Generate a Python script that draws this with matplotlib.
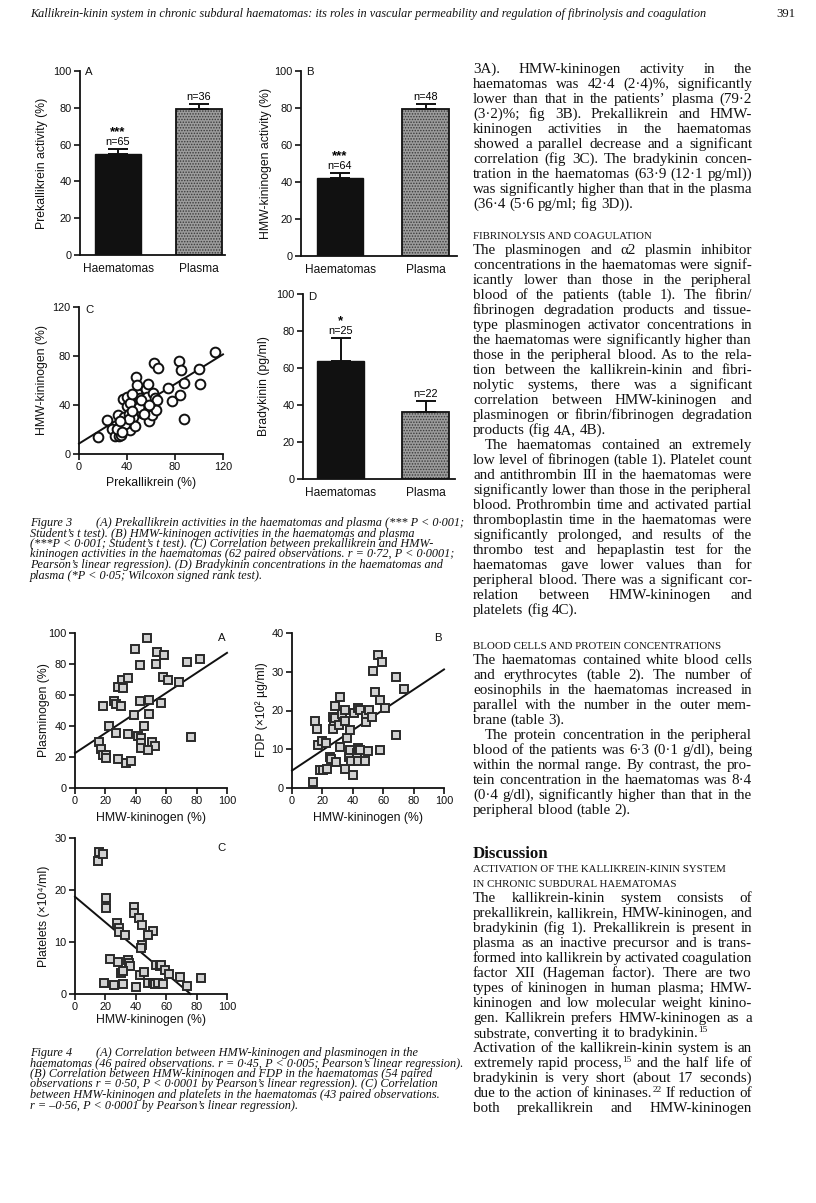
import numpy as np
import matplotlib.pyplot as plt
from matplotlib.transforms import IdentityTransform

W, H = 816, 1203
plt.rcParams['font.family'] = ['Liberation Sans', 'DejaVu Sans']
plt.rcParams['hatch.linewidth'] = 0.7

# ---- figure 3 data ----
groups = ['Haematomas', 'Plasma']
prek_mean = [55.0, 79.5]
prek_err = [2.5, 2.5]
prek_n = [65, 36]
hmw_mean = [42.4, 79.2]
hmw_err = [2.4, 3.0]
hmw_n = [64, 48]
brady_mean = [63.9, 36.4]
brady_err = [12.1, 5.6]
brady_n = [25, 22]

prek_x = [15.9, 23.4, 27.9, 29.9, 32.1, 33.5, 35.4, 35.4, 37.4, 36.8, 39.6, 40.2, 38.5, 41.9, 42.4,
          43.8, 45.2, 46.6, 45.8, 47.4, 48.0, 48.5, 49.4, 46.6, 50.8, 52.2, 53.6, 55.0, 55.8, 57.8,
          56.4, 56.9, 58.6, 60.6, 62.0, 63.4, 64.7, 64.2, 62.8, 66.1, 74.5, 77.3, 83.2, 83.8, 84.8,
          87.6, 87.6, 100.2, 101.0, 113.6, 42.4, 50.2, 38.0, 43.8, 54.1, 41.6, 31.3, 36.0, 44.0,
          52.0, 58.0, 34.0]
hmw_y = [13.5, 27.9, 20.6, 14.4, 32.0, 14.4, 15.7, 22.5, 30.6, 44.7, 46.9, 38.8, 25.2, 32.8, 19.8,
         25.2, 30.6, 22.5, 38.8, 62.6, 49.6, 56.4, 41.5, 42.0, 45.5, 33.3, 37.4, 41.5, 52.8, 57.2,
         46.3, 37.4, 26.6, 32.0, 50.1, 45.5, 44.2, 36.0, 74.0, 70.5, 53.7, 43.6, 76.2, 48.2, 68.6,
         58.3, 28.5, 69.1, 57.2, 82.9, 41.5, 38.2, 24.7, 49.0, 32.8, 28.5, 20.3, 18.0, 35.0,
         44.0, 40.0, 27.0]
reg_3c = [8.5, 0.607]      # intercept, slope
range_3c = [0, 120]

# ---- figure 4 data ----
hmw_a = [47.5, 39.8, 54.0, 58.6, 42.7, 53.6, 73.5, 82.5, 31.1, 34.6, 28.2, 31.3, 58.0, 61.3, 68.5,
         18.4, 25.6, 27.1, 30.4, 42.7, 48.6, 56.5, 38.5, 48.4, 22.1, 45.3, 27.1, 35.0, 41.4, 43.5,
         43.5, 43.5, 50.8, 52.9, 47.7, 76.4, 15.5, 17.1, 18.4, 20.1, 20.1, 28.4, 33.3, 36.8]
plasminogen = [96.8, 89.7, 87.8, 85.9, 79.4, 80.1, 81.4, 83.5, 70.0, 70.9, 65.1, 64.5, 71.7, 69.4,
               68.7, 52.7, 56.1, 54.0, 52.7, 56.1, 56.7, 54.6, 46.9, 47.5, 40.0, 40.0, 35.5, 35.1,
               33.6, 32.5, 29.3, 25.5, 30.0, 26.8, 24.6, 33.2, 29.6, 25.3, 21.6, 21.6, 19.3, 18.6,
               16.1, 17.1]
reg_4a = [22.5, 0.647]
range_4a = [0, 100]

hmw_b = [13.6, 14.9, 16.5, 17.1, 18.6, 19.7, 20.1, 22.5, 22.9, 24.7, 25.6, 26.9, 26.9, 27.8, 28.4,
         28.2, 28.7, 30.6, 31.3, 31.3, 32.8, 34.8, 34.8, 35.0, 36.1, 37.6, 38.3, 38.3, 38.7, 40.3,
         41.1, 42.7, 43.1, 43.1, 43.3, 44.2, 44.9, 44.9, 47.9, 48.1, 48.6, 48.6, 50.1, 50.8, 52.9,
         53.6, 54.3, 56.5, 58.0, 58.2, 58.9, 61.3, 68.1, 68.5, 73.5]
fdp = [1.5, 17.4, 15.3, 11.2, 4.7, 12.1, 4.7, 11.6, 5.0, 8.1, 7.5, 15.2, 18.4, 17.4, 21.2, 18.0, 6.7,
       16.2, 23.6, 10.6, 19.1, 20.1, 17.4, 5.0, 12.9, 8.1, 15.0, 9.9, 7.0, 3.4, 19.4, 9.1, 10.4, 6.9,
       20.7, 9.9, 20.1, 9.7, 7.7, 7.0, 18.6, 17.1, 9.5, 20.1, 18.2, 30.2, 24.7, 34.4, 22.7, 9.9,
       32.5, 20.7, 28.6, 13.7, 25.5]
reg_4b = [4.5, 0.261]
range_4b = [0, 100]

hmw_c = [14.9, 16.0, 18.6, 20.4, 20.1, 27.4, 28.7, 29.0, 33.0, 38.7, 38.7, 41.8, 44.0, 51.0, 48.1,
         43.8, 43.5, 22.8, 28.0, 35.0, 35.2, 36.5, 30.0, 31.7, 18.8, 25.8, 31.7, 40.3, 42.9, 45.5,
         48.1, 51.0, 52.7, 54.3, 58.0, 53.2, 55.8, 56.9, 58.9, 61.7, 69.1, 74.0, 83.2]
platelets = [25.6, 27.3, 27.0, 18.5, 16.5, 13.7, 12.7, 12.0, 11.3, 16.8, 15.6, 14.7, 13.3, 12.2,
             11.4, 9.4, 8.9, 6.7, 6.1, 6.5, 5.9, 5.4, 4.1, 4.5, 2.1, 1.8, 1.9, 1.3, 3.6, 4.2, 2.1,
             2.2, 1.9, 2.2, 1.9, 5.6, 5.4, 5.6, 4.7, 3.8, 3.3, 1.5, 3.1]
reg_4c = [18.7, -0.246]
range_4c = [0, 76]

# ---- page text ----
header = ('Kallikrein-kinin system in chronic subdural haematomas: its roles in vascular '
          'permeability and regulation of fibrinolysis and coagulation')
page_no = '391'

cap3 = ['(A) Prekallikrein activities in the haematomas and plasma (*** P < 0·001;',
        'Student’s t test). (B) HMW-kininogen activities in the haematomas and plasma',
        '(***P < 0·001; Student’s t test). (C) Correlation between prekallikrein and HMW-',
        'kininogen activities in the haematomas (62 paired observations. r = 0·72, P < 0·0001;',
        'Pearson’s linear regression). (D) Bradykinin concentrations in the haematomas and',
        'plasma (*P < 0·05; Wilcoxon signed rank test).']
cap4 = ['(A) Correlation between HMW-kininogen and plasminogen in the',
        'haematomas (46 paired observations. r = 0·45, P < 0·005; Pearson’s linear regression).',
        '(B) Correlation between HMW-kininogen and FDP in the haematomas (54 paired',
        'observations r = 0·50, P < 0·0001 by Pearson’s linear regression). (C) Correlation',
        'between HMW-kininogen and platelets in the haematomas (43 paired observations.',
        'r = –0·56, P < 0·0001 by Pearson’s linear regression).']

# (y, text, kind)  kind: J justified, L left, I indented+justified, S small caps, B bold heading
body = [
    (69, '3A). HMW-kininogen activity in the', 'J'),
    (84, 'haematomas was 42·4 (2·4)%, significantly', 'J'),
    (99, 'lower than that in the patients’ plasma (79·2', 'J'),
    (114, '(3·2)%; fig 3B). Prekallikrein and HMW-', 'J'),
    (129, 'kininogen activities in the haematomas', 'J'),
    (144, 'showed a parallel decrease and a significant', 'J'),
    (159, 'correlation (fig 3C). The bradykinin concen-', 'J'),
    (174, 'tration in the haematomas (63·9 (12·1 pg/ml))', 'J'),
    (189, 'was significantly higher than that in the plasma', 'J'),
    (204, '(36·4 (5·6 pg/ml; fig 3D)).', 'L'),
    (235, 'FIBRINOLYSIS AND COAGULATION', 'S'),
    (250, 'The plasminogen and α2 plasmin inhibitor', 'J'),
    (265, 'concentrations in the haematomas were signif-', 'J'),
    (280, 'icantly lower than those in the peripheral', 'J'),
    (295, 'blood of the patients (table 1). The fibrin/', 'J'),
    (310, 'fibrinogen degradation products and tissue-', 'J'),
    (325, 'type plasminogen activator concentrations in', 'J'),
    (340, 'the haematomas were significantly higher than', 'J'),
    (355, 'those in the peripheral blood. As to the rela-', 'J'),
    (370, 'tion between the kallikrein-kinin and fibri-', 'J'),
    (385, 'nolytic systems, there was a significant', 'J'),
    (400, 'correlation between HMW-kininogen and', 'J'),
    (415, 'plasminogen or fibrin/fibrinogen degradation', 'J'),
    (430, 'products (fig 4A, 4B).', 'L'),
    (445, 'The haematomas contained an extremely', 'I'),
    (460, 'low level of fibrinogen (table 1). Platelet count', 'J'),
    (475, 'and antithrombin III in the haematomas were', 'J'),
    (490, 'significantly lower than those in the peripheral', 'J'),
    (505, 'blood. Prothrombin time and activated partial', 'J'),
    (520, 'thromboplastin time in the haematomas were', 'J'),
    (535, 'significantly prolonged, and results of the', 'J'),
    (550, 'thrombo test and hepaplastin test for the', 'J'),
    (565, 'haematomas gave lower values than for', 'J'),
    (580, 'peripheral blood. There was a significant cor-', 'J'),
    (595, 'relation between HMW-kininogen and', 'J'),
    (610, 'platelets (fig 4C).', 'L'),
    (645, 'BLOOD CELLS AND PROTEIN CONCENTRATIONS', 'S'),
    (660, 'The haematomas contained white blood cells', 'J'),
    (675, 'and erythrocytes (table 2). The number of', 'J'),
    (690, 'eosinophils in the haematomas increased in', 'J'),
    (705, 'parallel with the number in the outer mem-', 'J'),
    (720, 'brane (table 3).', 'L'),
    (735, 'The protein concentration in the peripheral', 'I'),
    (750, 'blood of the patients was 6·3 (0·1 g/dl), being', 'J'),
    (765, 'within the normal range. By contrast, the pro-', 'J'),
    (780, 'tein concentration in the haematomas was 8·4', 'J'),
    (795, '(0·4 g/dl), significantly higher than that in the', 'J'),
    (810, 'peripheral blood (table 2).', 'L'),
    (853, 'Discussion', 'B'),
    (868, 'ACTIVATION OF THE KALLIKREIN-KININ SYSTEM', 'S'),
    (883, 'IN CHRONIC SUBDURAL HAEMATOMAS', 'S'),
    (898, 'The kallikrein-kinin system consists of', 'J'),
    (913, 'prekallikrein, kallikrein, HMW-kininogen, and', 'J'),
    (928, 'bradykinin (fig 1). Prekallikrein is present in', 'J'),
    (943, 'plasma as an inactive precursor and is trans-', 'J'),
    (958, 'formed into kallikrein by activated coagulation', 'J'),
    (973, 'factor XII (Hageman factor). There are two', 'J'),
    (988, 'types of kininogen in human plasma; HMW-', 'J'),
    (1003, 'kininogen and low molecular weight kinino-', 'J'),
    (1018, 'gen. Kallikrein prefers HMW-kininogen as a', 'J'),
    (1033, 'substrate, converting it to bradykinin.^15', 'L'),
    (1048, 'Activation of the kallikrein-kinin system is an', 'J'),
    (1063, 'extremely rapid process,^15 and the half life of', 'J'),
    (1078, 'bradykinin is very short (about 17 seconds)', 'J'),
    (1093, 'due to the action of kininases.^22 If reduction of', 'J'),
    (1108, 'both prekallikrein and HMW-kininogen', 'J'),
]

fig = plt.figure(figsize=(W / 100, H / 100), dpi=100)
fig.patch.set_facecolor('white')
R = fig.canvas.get_renderer()
ID = IdentityTransform()
SERIF = ['Liberation Serif', 'DejaVu Serif']


def add_ax(x0, y0, x1, y1):
    return fig.add_axes([x0 / W, 1 - y1 / H, (x1 - x0) / W, (y1 - y0) / H])


def ptext(x, y, s, **kw):
    kw.setdefault('va', 'baseline')
    return fig.text(x, H - y, s, transform=ID, **kw)


def wid(t):
    return t.get_window_extent(R).width


def fit_size(s, target, **kw):
    t = ptext(0, 0, s, fontsize=10, **kw)
    w = wid(t)
    t.remove()
    return 10 * target / w


def set_line(y, s, x0, x1, size, just=True, indent=0, **kw):
    items = []
    for w in s.split():
        base, _, sup = w.partition('^')
        t = ptext(0, y, base, fontsize=size, **kw)
        ts, ws = None, 0
        if sup:
            ts = ptext(0, y, sup, fontsize=size * 0.62, **kw)
            ws = wid(ts)
        items.append((t, wid(t), ts, ws))
    total = sum(i[1] + i[3] for i in items)
    gap = size * 100 / 72 * 0.25
    if just and len(items) > 1:
        gap = max((x1 - x0 - indent - total) / (len(items) - 1), 1.5)
    x = x0 + indent
    for t, wb, ts, ws in items:
        t.set_x(x)
        if ts is not None:
            ts.set_x(x + wb)
            ts.set_y(H - y + size * 0.5)
        x += wb + ws + gap


def style_ax(ax, lw=1.3):
    for s in ['top', 'right']:
        ax.spines[s].set_visible(False)
    for s in ['left', 'bottom']:
        ax.spines[s].set_linewidth(lw)
        ax.spines[s].set_color('#111')
    ax.tick_params(direction='out', length=4, width=1.2, labelsize=7.9, pad=2, colors='#111')


def bar_panel(box, means, errs, ns, star, xlim, width):
    ax = add_ax(*box)
    x = np.arange(len(groups))
    ax.bar(x[0], means[0], width, color='#111', edgecolor='#111', lw=1, zorder=2)
    ax.bar(x[1], means[1], width, color='#9c9c9c', edgecolor='#3a3a3a', hatch='......', lw=0, zorder=2)
    ax.bar(x[1], means[1], width, fill=False, edgecolor='#111', lw=1.3, zorder=3)
    ax.errorbar(x, means, yerr=[np.zeros(len(x)), errs], fmt='none', ecolor='#111',
                elinewidth=1.4, capsize=7.5, capthick=1.4, zorder=4)
    for xi, m, e, n in zip(x, means, errs, ns):
        ax.annotate(f'n={n}', (xi, m + e), xytext=(0, 1.5), textcoords='offset points',
                    ha='center', va='bottom', fontsize=7.8)
    ax.annotate(star, (x[0], means[0] + errs[0]), xytext=(0, 8), textcoords='offset points',
                ha='center', va='bottom', fontsize=9.5, weight='bold')
    ax.set_xlim(*xlim)
    ax.set_ylim(0, 100)
    ax.set_yticks(range(0, 101, 20))
    ax.set_xticks(x)
    ax.set_xticklabels(groups)
    style_ax(ax)
    ax.tick_params(axis='x', length=0, labelsize=8.6, pad=6)
    return ax


def scatter_panel(box, xs, ys, coef, xr, ylim, yticks, xticks, kind):
    ax = add_ax(*box)
    if kind == 'circle':
        ax.plot(xs, ys, 'o', ms=7.0, mfc='white', mec='#111', mew=1.4, clip_on=False, zorder=3)
    else:
        ax.plot(xs, ys, 's', ms=5.2, mfc='#d2d2d2', mec='#2a2a2a', mew=1.4, clip_on=False, zorder=3)
    lx = np.array(xr, dtype=float)
    ax.plot(lx, coef[0] + coef[1] * lx, color='#111', lw=1.4, zorder=2, clip_on=False)
    ax.set_xlim(xticks[0], xticks[-1])
    ax.set_ylim(*ylim)
    ax.set_xticks(xticks)
    ax.set_yticks(yticks)
    style_ax(ax)
    return ax


# Figure 3
bar_panel((80, 71, 225, 255), prek_mean, prek_err, prek_n, '***', (-0.47, 1.32), 0.56)
bar_panel((301, 71, 457, 256), hmw_mean, hmw_err, hmw_n, '***', (-0.456, 1.368), 0.54)
bar_panel((303, 294, 455, 479), brady_mean, brady_err, brady_n, '*', (-0.44, 1.34), 0.55)
scatter_panel((79, 307, 223, 454), prek_x, hmw_y, reg_3c, range_3c, (0, 120),
              [0, 40, 80, 120], [0, 40, 80, 120], 'circle')

# Figure 4
scatter_panel((75, 633, 227, 788), hmw_a, plasminogen, reg_4a, range_4a, (0, 100),
              range(0, 101, 20), range(0, 101, 20), 'square')
scatter_panel((292, 633, 444, 788), hmw_b, fdp, reg_4b, range_4b, (0, 40),
              range(0, 41, 10), range(0, 101, 20), 'square')
scatter_panel((75, 838, 227, 994), hmw_c, platelets, reg_4c, range_4c, (0, 30),
              range(0, 31, 10), range(0, 101, 20), 'square')

# axis labels and panel letters
lab = dict(fontsize=8.8, color='#111', ha='center', va='center')
ylabels = [(42, 163, 'Prekallikrein activity (%)'), (266, 163, 'HMW-kininogen activity (%)'),
           (42, 380, 'HMW-kininogen (%)'), (264, 386, 'Bradykinin (pg/ml)'),
           (44, 710, 'Plasminogen (%)'), (262, 710, 'FDP (×10² µg/ml)'),
           (44, 916, 'Platelets (×10⁴/ml)')]
for x, y, s in ylabels:
    ptext(x, y, s, rotation=90, **lab)
xlabels = [(151, 483, 'Prekallikrein (%)'), (151, 818, 'HMW-kininogen (%)'),
           (368, 818, 'HMW-kininogen (%)'), (151, 1020, 'HMW-kininogen (%)')]
for x, y, s in xlabels:
    ptext(x, y, s, **lab)
letters = [(89, 72, 'A'), (310, 72, 'B'), (89, 310, 'C'), (312, 297, 'D'),
           (222, 638, 'A'), (438, 638, 'B'), (222, 848, 'C')]
for x, y, s in letters:
    ptext(x, y, s, fontsize=8.2, color='#111', ha='center', va='center')

# header
hsz = fit_size(header, 675, family=SERIF, style='italic')
ptext(30, 17, header, fontsize=hsz, family=SERIF, style='italic', color='#111')
ptext(795, 17, page_no, fontsize=hsz * 1.05, family=SERIF, color='#111', ha='right')

# captions
csz = fit_size(cap3[3], 425, family=SERIF, style='italic')
for cap, y0, label in [(cap3, 526, 'Figure 3'), (cap4, 1056, 'Figure 4')]:
    for i, line in enumerate(cap):
        yy = y0 + i * 10.5
        if i == 0:
            ptext(30, yy, label, fontsize=csz, family=SERIF, style='italic', color='#111')
            ptext(96, yy, line, fontsize=csz, family=SERIF, style='italic', color='#111')
        else:
            ptext(30, yy, line, fontsize=csz, family=SERIF, style='italic', color='#111')

# body text, right column
X0, X1 = 473, 752
bsz = fit_size('was significantly higher than that in the plasma', 284, family=SERIF)
for y, s, kind in body:
    yb = y + 4
    if kind == 'S':
        ptext(X0, yb, s, fontsize=bsz * 0.73, family=SERIF, color='#111')
    elif kind == 'B':
        ptext(X0, yb + 1, s, fontsize=bsz * 1.12, family=SERIF, weight='bold', color='#111')
    else:
        set_line(yb, s, X0, X1, bsz, just=(kind != 'L'), indent=12 if kind == 'I' else 0,
                 family=SERIF, color='#111')

fig.savefig('out.png', dpi=100, facecolor='white')
